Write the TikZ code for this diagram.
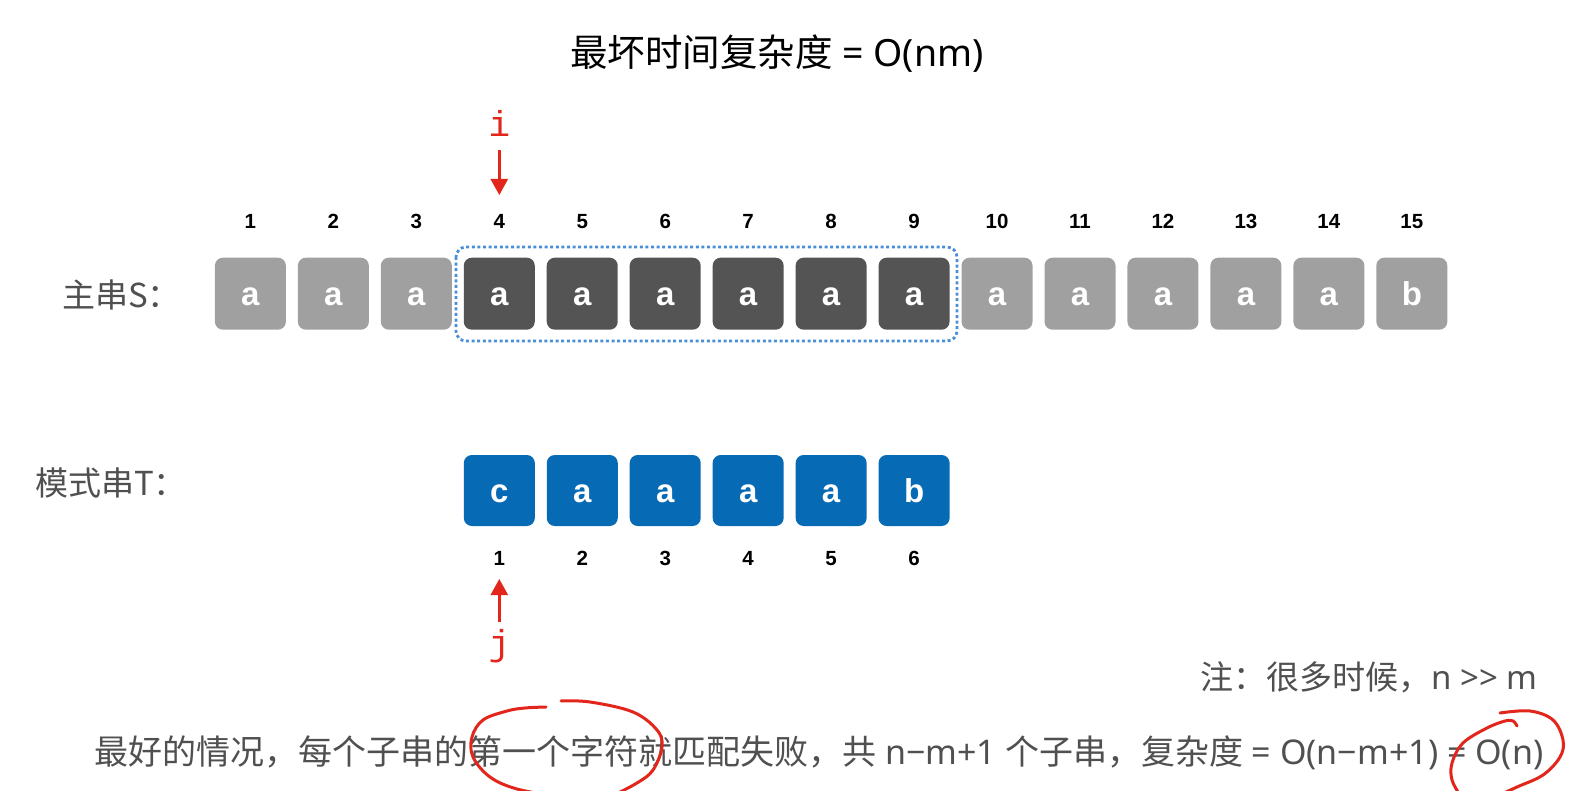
\documentclass[tikz,border=0pt]{standalone}
\usepackage{fontspec}
\setmainfont{Noto Sans CJK SC}
\newfontfamily\arialf{Liberation Sans}
\newfontfamily\monof{Liberation Mono}
\newfontfamily\latf{Noto Sans}
\usetikzlibrary{arrows.meta}
\definecolor{lgray}{HTML}{A0A0A0}
\definecolor{dgray}{HTML}{545454}
\definecolor{tblue}{HTML}{076AB4}
\definecolor{dotblue}{HTML}{4A8FD6}
\definecolor{pred}{HTML}{E2261C}
\definecolor{txtgray}{HTML}{505050}
\begin{document}
\begin{tikzpicture}[x=1pt,y=-1pt,
 cell/.style={minimum width=71pt, minimum height=72pt, rounded corners=8pt, inner sep=0pt, text=white, text height=24pt, text depth=0pt, font=\arialf\bfseries\fontsize{33pt}{33pt}\selectfont},
 num/.style={font=\arialf\bfseries\fontsize{20.5pt}{20.5pt}\selectfont, inner sep=0pt},
 lbl/.style={text=txtgray, font=\fontsize{33pt}{33pt}\selectfont, inner sep=0pt},
 ptr/.style={text=pred, font=\monof\fontsize{36pt}{36pt}\selectfont, inner sep=0pt},
 parrow/.style={draw=pred, line width=2.5pt, -{Triangle[width=17pt,length=16pt]}},
 pen/.style={draw=pred, line width=3pt, line cap=round, line join=round},
 dotbox/.style={draw=dotblue, line width=2.8pt, dash pattern=on 3pt off 2.6pt, rounded corners=10pt},
]
\useasboundingbox (0,0) rectangle (1596,791);
\fill[white] (0,0) rectangle (1596,791);

% title
\node[inner sep=0pt, font=\fontsize{37.5pt}{37.5pt}\selectfont] (title) at (777,54) {最坏时间复杂度{\latf{} = O(nm)}};

% main string S
\foreach \k/\c/\ch in {1/lgray/a,2/lgray/a,3/lgray/a,4/dgray/a,5/dgray/a,6/dgray/a,7/dgray/a,8/dgray/a,9/dgray/a,10/lgray/a,11/lgray/a,12/lgray/a,13/lgray/a,14/lgray/a,15/lgray/b}{
  \node[cell, fill=\c] (s\k) at ({250.4+(\k-1)*82.96},293.7) {\ch};
  \node[num, text height=15pt, text depth=0pt] (sn\k) at ({250.4+(\k-1)*82.96},221) {\k};
}
\node[lbl, anchor=west] (slabel) at (62,295) {主串S：};
\draw[dotbox] (456,247) rectangle (957,341);

% pattern T
\foreach \k/\ch in {1/c,2/a,3/a,4/a,5/a,6/b}{
  \node[cell, fill=tblue, minimum height=71pt] (t\k) at ({499.3+(\k-1)*82.96},490.5) {\ch};
  \node[num, text height=15pt, text depth=0pt] (tn\k) at ({499.3+(\k-1)*82.96},558) {\k};
}
\node[lbl, anchor=west] (tlabel) at (35,483) {模式串T：};

% pointers
\node[ptr] (ilbl) at (499.3,123) {i};
\coordinate (ia) at (499.3,150);
\coordinate (ib) at (499.3,195);
\draw[parrow] (ia) -- (ib);
\node[ptr] (jlbl) at (499.3,646) {j};
\coordinate (ja) at (499.3,622);
\coordinate (jb) at (499.3,579);
\draw[parrow] (ja) -- (jb);

% notes
\node[lbl, anchor=east] (note) at (1538,677) {注：很多时候，{\latf n >{}> m}};
\node[lbl, anchor=west, font=\fontsize{34pt}{34pt}\selectfont] (best) at (94,753) {最好的情况，每个子串的第一个字符就匹配失败，共{\latf{} n−m+1 }个子串，复杂度{\latf{} = O(n−m+1) = O(n)}};

% hand-drawn circles
\begin{scope}
\clip (0,0) rectangle (1596,791);
\draw[pen] plot[smooth, tension=0.6] coordinates {(546,707) (525,708) (507,711) (483,720) (472,737) (473,757) (490,777) (517,789) (560,797)};
\draw[pen] plot[smooth, tension=0.6] coordinates {(561,701) (590,702) (633,712) (657,730) (662,747) (653,770) (637,783) (610,797)};
\draw[pen] plot[smooth, tension=0.6] coordinates {(1517,726) (1513,721) (1505,721) (1487,728) (1463,743) (1452,763) (1452,780) (1460,795)};
\draw[pen] plot[smooth, tension=0.6] coordinates {(1500,713) (1530,711) (1553,720) (1563,740) (1560,757) (1543,775) (1517,787) (1495,797)};
\end{scope}
\end{tikzpicture}
\end{document}
